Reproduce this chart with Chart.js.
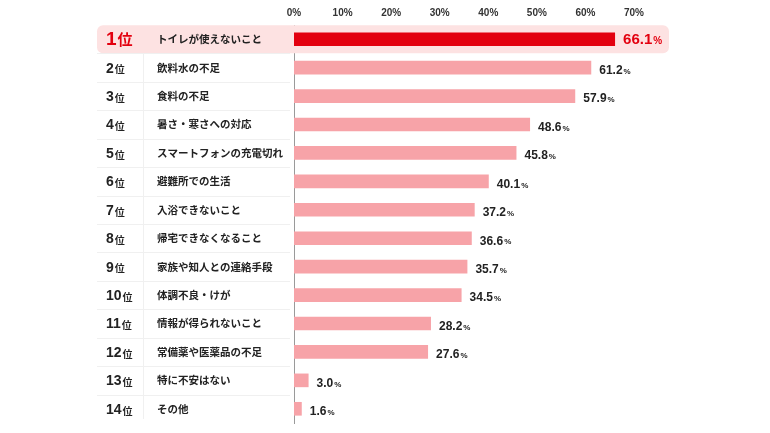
<!DOCTYPE html>
<html><head><meta charset="utf-8">
<script src="https://cdn.jsdelivr.net/npm/chart.js@4/dist/chart.umd.min.js"></script>
<style>html,body{margin:0;padding:0;background:#fff}#wrap{width:770px;height:433px}</style>
</head><body><div id="wrap"><canvas id="c" width="770" height="433"></canvas></div>
<script>
const ranks = ['1','2','3','4','5','6','7','8','9','10','11','12','13','14'];
const labels = ['トイレが使えないこと','飲料水の不足','食料の不足','暑さ・寒さへの対応','スマートフォンの充電切れ','避難所での生活','入浴できないこと','帰宅できなくなること','家族や知人との連絡手段','体調不良・けが','情報が得られないこと','常備薬や医薬品の不足','特に不安はない','その他'];
const values = [66.1,61.2,57.9,48.6,45.8,40.1,37.2,36.6,35.7,34.5,28.2,27.6,3.0,1.6];
const tickValues = [0,10,20,30,40,50,60,70];

const FONT = '"Noto Sans CJK JP","Liberation Sans",sans-serif';
const NUM = '"Liberation Sans","Noto Sans CJK JP",sans-serif';
const RED = '#e3000f', PINK = '#f7a3a8', HL = '#fde2e2';

const rowPlugin = {
  id: 'rows',
  beforeDatasetsDraw(chart) {
    const ctx = chart.ctx, y = chart.scales.y, area = chart.chartArea;
    const h = y.getPixelForValue(1) - y.getPixelForValue(0);
    ctx.save();
    const c0 = y.getPixelForValue(0);
    ctx.fillStyle = HL;
    ctx.beginPath();
    ctx.roundRect(97, c0 - 14, 572, 28, 6);
    ctx.fill();
    ctx.strokeStyle = '#f0f0f0';
    ctx.lineWidth = 1;
    for (let i = 1; i < labels.length; i++) {
      const yy = Math.round(y.getPixelForValue(i) - h / 2) + 0.5;
      ctx.beginPath(); ctx.moveTo(97, yy); ctx.lineTo(area.left - 4, yy); ctx.stroke();
    }
    ctx.beginPath();
    ctx.moveTo(143.5, c0 + h / 2); ctx.lineTo(143.5, area.bottom - 4); ctx.stroke();
    ctx.restore();
  },
  afterDatasetsDraw(chart) {
    const ctx = chart.ctx, y = chart.scales.y, x = chart.scales.x;
    ctx.save();
    ctx.textBaseline = 'middle';
    ctx.textAlign = 'left';
    labels.forEach((lab, i) => {
      const cy = y.getPixelForValue(i);
      const first = i === 0;
      ctx.fillStyle = first ? RED : '#222';
      ctx.font = 'bold ' + (first ? 19 : 14) + 'px ' + NUM;
      let rx = 106;
      ctx.fillText(ranks[i], rx, cy + 1);
      rx += ctx.measureText(ranks[i]).width + 1;
      ctx.font = 'bold ' + (first ? 15 : 10) + 'px ' + FONT;
      ctx.fillText('位', rx, cy + (first ? 0 : 2));
      ctx.fillStyle = '#222';
      ctx.font = 'bold 10.5px ' + FONT;
      ctx.fillText(lab, 157, cy);
      const vx = x.getPixelForValue(values[i]) + 8;
      const vy = cy + (first ? 1 : 3);
      ctx.fillStyle = first ? RED : '#222';
      ctx.font = 'bold ' + (first ? 15 : 12) + 'px ' + NUM;
      const s = values[i].toFixed(1);
      ctx.fillText(s, vx, vy);
      const w = ctx.measureText(s).width;
      ctx.font = 'bold ' + (first ? 10 : 8) + 'px ' + NUM;
      ctx.fillText('%', vx + w + 1, vy + 1);
    });
    ctx.restore();
  }
};

new Chart(document.getElementById('c'), {
  type: 'bar',
  data: {
    labels: labels,
    datasets: [{
      data: values,
      backgroundColor: values.map((v, i) => i === 0 ? RED : PINK),
      barPercentage: 1,
      categoryPercentage: 0.48,
      borderWidth: 0
    }]
  },
  options: {
    indexAxis: 'y',
    responsive: false,
    animation: false,
    devicePixelRatio: 1,
    layout: { padding: { left: 294, right: 136, top: 0, bottom: 10 } },
    plugins: { legend: { display: false }, tooltip: { enabled: false } },
    scales: {
      x: {
        position: 'top',
        min: 0, max: 70,
        afterFit(s) { s.height = 25; },
        afterBuildTicks(s) { s.ticks = tickValues.map(v => ({ value: v })); },
        grid: { display: false, drawTicks: false },
        border: { display: false },
        ticks: {
          padding: 6,
          color: '#333',
          font: { family: NUM, size: 10, weight: 'bold' },
          callback: v => v + '%'
        }
      },
      y: {
        afterFit(s) { s.width = 0; },
        grid: { display: false, drawTicks: false },
        border: { display: true, color: '#9a9a9a', width: 1 },
        ticks: { display: false }
      }
    }
  },
  plugins: [rowPlugin]
});
</script>
</body></html>
